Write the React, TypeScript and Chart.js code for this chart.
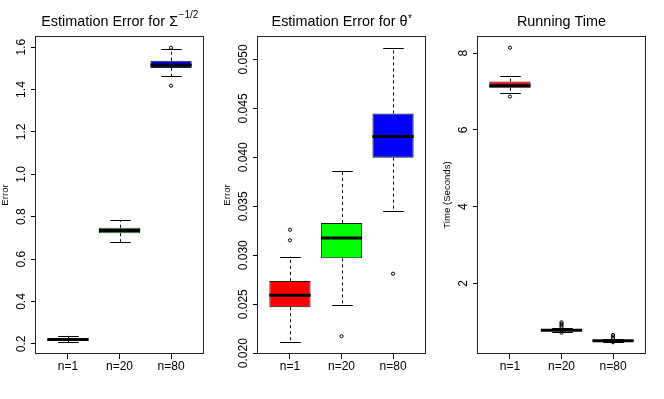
import React, { useEffect, useRef } from "react";
import { Chart, registerables } from "chart.js";

Chart.register(...registerables);

const FONT = '"Liberation Sans", Arial, Helvetica, sans-serif';

// ---------- shared ----------
const categories = ["n=1", "n=20", "n=80"];
const boxColors = ["#FF0000", "#00FF00", "#0000FF"];

// ---------- Panel 1: Estimation Error for Sigma^{-1/2} ----------
const sigmaLow = [0.208, 0.681, 1.462];
const sigmaQ1 = [0.215, 0.722, 1.502];
const sigmaMedian = [0.221, 0.735, 1.516];
const sigmaQ3 = [0.226, 0.748, 1.536];
const sigmaHigh = [0.238, 0.783, 1.59];
const sigmaOutliers = [[], [], [1.597, 1.418]];
const sigmaTicks = [0.2, 0.4, 0.6, 0.8, 1.0, 1.2, 1.4, 1.6];

// ---------- Panel 2: Estimation Error for theta* ----------
const thetaLow = [0.02112, 0.02493, 0.03449];
const thetaQ1 = [0.0247, 0.02969, 0.03997];
const thetaMedian = [0.02592, 0.03177, 0.04214];
const thetaQ3 = [0.02738, 0.0333, 0.04449];
const thetaHigh = [0.02986, 0.03864, 0.05119];
const thetaOutliers = [[0.03153, 0.03261], [0.02173], [0.02812]];
const thetaTicks = [0.02, 0.025, 0.03, 0.035, 0.04, 0.045, 0.05];

// ---------- Panel 3: Running Time ----------
const timeLow = [6.97, 0.74, 0.48];
const timeQ1 = [7.1, 0.765, 0.495];
const timeMedian = [7.15, 0.78, 0.51];
const timeQ3 = [7.26, 0.795, 0.525];
const timeHigh = [7.4, 0.83, 0.55];
const timeOutliers = [[8.14, 6.87], [0.99, 0.95, 0.91, 0.87, 0.72], [0.66, 0.62, 0.58, 0.47]];
const timeTicks = [2, 4, 6, 8];

type PanelSpec = {
  title: string;
  sup: string;
  supRaise: number;
  ylabel: string;
  low: number[];
  q1: number[];
  median: number[];
  q3: number[];
  high: number[];
  outliers: number[][];
  ticks: number[];
  decimals: number;
  left: number;
};

const panels: PanelSpec[] = [
  {
    title: "Estimation Error for \u03A3",
    sup: "\u22121/2",
    supRaise: 8,
    ylabel: "Error",
    low: sigmaLow,
    q1: sigmaQ1,
    median: sigmaMedian,
    q3: sigmaQ3,
    high: sigmaHigh,
    outliers: sigmaOutliers,
    ticks: sigmaTicks,
    decimals: 1,
    left: 0,
  },
  {
    title: "Estimation Error for \u03B8",
    sup: "*",
    supRaise: 4,
    ylabel: "Error",
    low: thetaLow,
    q1: thetaQ1,
    median: thetaMedian,
    q3: thetaQ3,
    high: thetaHigh,
    outliers: thetaOutliers,
    ticks: thetaTicks,
    decimals: 3,
    left: 222,
  },
  {
    title: "Running Time",
    sup: "",
    supRaise: 0,
    ylabel: "Time (Seconds)",
    low: timeLow,
    q1: timeQ1,
    median: timeMedian,
    q3: timeQ3,
    high: timeHigh,
    outliers: timeOutliers,
    ticks: timeTicks,
    decimals: 0,
    left: 442,
  },
];

const W = 221;
const H = 399;

function boxPlugin(p: PanelSpec) {
  return {
    id: "boxExtras",
    beforeDatasetsDraw(chart: any) {
      const ctx = chart.ctx;
      const xs = chart.scales.x;
      const ys = chart.scales.y;
      const halfCap = xs.getPixelForValue(1.2) - xs.getPixelForValue(1);
      ctx.save();
      ctx.strokeStyle = "#000";
      ctx.lineWidth = 1;
      for (let i = 0; i < p.q1.length; i++) {
        const x = Math.round(xs.getPixelForValue(i + 1)) + 0.5;
        const yLow = ys.getPixelForValue(p.low[i]);
        const yHigh = ys.getPixelForValue(p.high[i]);
        const yQ1 = ys.getPixelForValue(p.q1[i]);
        const yQ3 = ys.getPixelForValue(p.q3[i]);
        ctx.setLineDash([3, 3]);
        ctx.beginPath();
        ctx.moveTo(x, yQ3);
        ctx.lineTo(x, yHigh);
        ctx.moveTo(x, yQ1);
        ctx.lineTo(x, yLow);
        ctx.stroke();
        ctx.setLineDash([]);
        ctx.beginPath();
        ctx.moveTo(x - halfCap, Math.round(yHigh) + 0.5);
        ctx.lineTo(x + halfCap, Math.round(yHigh) + 0.5);
        ctx.moveTo(x - halfCap, Math.round(yLow) + 0.5);
        ctx.lineTo(x + halfCap, Math.round(yLow) + 0.5);
        ctx.stroke();
      }
      ctx.restore();
    },
    afterDatasetsDraw(chart: any) {
      const ctx = chart.ctx;
      const xs = chart.scales.x;
      const ys = chart.scales.y;
      const halfBox = xs.getPixelForValue(1.4) - xs.getPixelForValue(1);
      ctx.save();
      ctx.strokeStyle = "#000";
      ctx.lineWidth = 3;
      for (let i = 0; i < p.median.length; i++) {
        const x = xs.getPixelForValue(i + 1);
        const y = ys.getPixelForValue(p.median[i]);
        ctx.beginPath();
        ctx.moveTo(x - halfBox, y);
        ctx.lineTo(x + halfBox, y);
        ctx.stroke();
      }
      ctx.restore();
    },
    afterDraw(chart: any) {
      const ctx = chart.ctx;
      const { left, right, top, bottom } = chart.chartArea;
      const ys = chart.scales.y;
      ctx.save();
      // frame
      ctx.strokeStyle = "#222";
      ctx.lineWidth = 1;
      ctx.strokeRect(Math.round(left) - 0.5, Math.round(top) + 0.5, Math.round(right - left) + 1, Math.round(bottom - top) - 1);
      // y tick labels (rotated, R style)
      ctx.fillStyle = "#000";
      ctx.font = `12px ${FONT}`;
      ctx.textAlign = "center";
      ctx.textBaseline = "middle";
      for (const t of ys.ticks) {
        const py = ys.getPixelForValue(t.value);
        ctx.save();
        ctx.translate(left - 14, py);
        ctx.rotate(-Math.PI / 2);
        ctx.fillText(Number(t.value).toFixed(p.decimals), 0, 0);
        ctx.restore();
      }
      // title with superscript
      ctx.textAlign = "left";
      ctx.textBaseline = "alphabetic";
      ctx.font = `14.4px ${FONT}`;
      const w1 = ctx.measureText(p.title).width;
      ctx.font = `10px ${FONT}`;
      const w2 = p.sup ? ctx.measureText(p.sup).width : 0;
      const x0 = (left + right) / 2 - (w1 + w2) / 2;
      ctx.font = `14.4px ${FONT}`;
      ctx.fillText(p.title, x0, 26);
      if (p.sup) {
        ctx.font = `10px ${FONT}`;
        ctx.fillText(p.sup, x0 + w1 + 0.5, 26 - p.supRaise);
      }
      ctx.restore();
    },
  };
}

function makeConfig(p: PanelSpec): any {
  const all = [...p.low, ...p.high, ...p.outliers.flat()];
  const dmin = Math.min(...all);
  const dmax = Math.max(...all);
  const ext = (dmax - dmin) * 0.04;
  return {
    type: "bar",
    data: {
      datasets: [
        {
          type: "bar",
          data: p.q1.map((q, i) => ({ x: i + 1, y: [q, p.q3[i]] })),
          backgroundColor: boxColors,
          borderColor: "#1a1a1a",
          borderWidth: 1,
          borderSkipped: false,
          categoryPercentage: 1,
          barPercentage: 0.8,
          grouped: false,
        },
        {
          type: "scatter",
          data: p.outliers.flatMap((arr, i) => arr.map((v) => ({ x: i + 1, y: v }))),
          pointRadius: 1.6,
          pointBorderWidth: 1,
          pointBorderColor: "#000",
          pointBackgroundColor: "rgba(0,0,0,0)",
          showLine: false,
        },
      ],
    },
    options: {
      responsive: false,
      animation: false,
      devicePixelRatio: 1,
      layout: { padding: { left: 0, right: 18, top: 36, bottom: 0 } },
      plugins: {
        legend: { display: false },
        tooltip: { enabled: false },
        title: { display: false },
      },
      scales: {
        x: {
          type: "linear",
          offset: false,
          bounds: "data",
          min: 0.38,
          max: 3.62,
          afterBuildTicks: (s: any) => {
            s.ticks = categories.map((_, i) => ({ value: i + 1 }));
          },
          afterFit: (s: any) => {
            s.height = 45;
          },
          ticks: {
            callback: (v: any) => categories[Math.round(v) - 1],
            font: { size: 12, family: FONT },
            color: "#000",
            padding: 0,
            maxRotation: 0,
            autoSkip: false,
          },
          grid: { offset: false, drawOnChartArea: false, drawTicks: true, tickLength: 5, color: "#000" },
          border: { display: false },
        },
        y: {
          type: "linear",
          min: dmin - ext,
          max: dmax + ext,
          afterBuildTicks: (s: any) => {
            s.ticks = p.ticks.map((v) => ({ value: v }));
          },
          afterFit: (s: any) => {
            s.width = 36;
          },
          ticks: { display: false },
          grid: { drawOnChartArea: false, drawTicks: true, tickLength: 5, color: "#000" },
          border: { display: false },
          title: {
            display: true,
            text: p.ylabel,
            font: { size: 9.6, family: FONT },
            color: "#000",
            padding: 0,
          },
        },
      },
    },
    plugins: [boxPlugin(p)],
  };
}

function Panel({ spec }: { spec: PanelSpec }) {
  const ref = useRef<HTMLCanvasElement | null>(null);
  useEffect(() => {
    if (!ref.current) return;
    const chart = new Chart(ref.current, makeConfig(spec));
    return () => chart.destroy();
  }, [spec]);
  return (
    <canvas
      ref={ref}
      width={W}
      height={H}
      style={{ position: "absolute", left: spec.left, top: 0, width: W, height: H }}
    />
  );
}

export default function App() {
  return (
    <div style={{ position: "absolute", left: 0, top: 0, width: 664, height: 399, background: "#fff" }}>
      {panels.map((p, i) => (
        <Panel key={i} spec={p} />
      ))}
    </div>
  );
}
